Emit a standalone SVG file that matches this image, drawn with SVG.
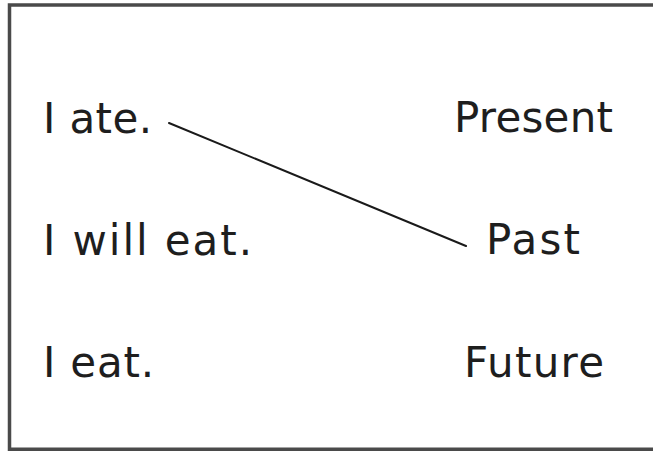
<svg xmlns="http://www.w3.org/2000/svg" width="653" height="451" viewBox="0 0 653 451">
<style>
.t{font-family:"DejaVu Sans","Liberation Sans",sans-serif;font-size:42px;fill:#1e1e1e}
.frame{fill:none;stroke:#4a4a4a;stroke-width:3.5}
.conn{stroke:#1a1a1a;stroke-width:2;fill:none;stroke-linecap:round}
</style>
<rect width="653" height="451" fill="#ffffff"/>
<path class="frame" d="M655 5 H9.5 V449.3 H655"/>
<g id="n-i-ate"><text class="t" x="43" y="133" textLength="109" lengthAdjust="spacing">I ate.</text></g>
<g id="n-i-will-eat"><text class="t" x="43" y="255" textLength="209" lengthAdjust="spacing">I will eat.</text></g>
<g id="n-i-eat"><text class="t" x="43" y="377" textLength="111" lengthAdjust="spacing">I eat.</text></g>
<g id="n-present"><text class="t" x="454" y="132" textLength="159" lengthAdjust="spacing">Present</text></g>
<g id="n-past"><text class="t" x="486" y="254" textLength="94" lengthAdjust="spacing">Past</text></g>
<g id="n-future"><text class="t" x="464" y="377" textLength="140" lengthAdjust="spacing">Future</text></g>
<g id="connectors"><line class="conn" x1="169" y1="123" x2="466" y2="246"/></g>
</svg>
